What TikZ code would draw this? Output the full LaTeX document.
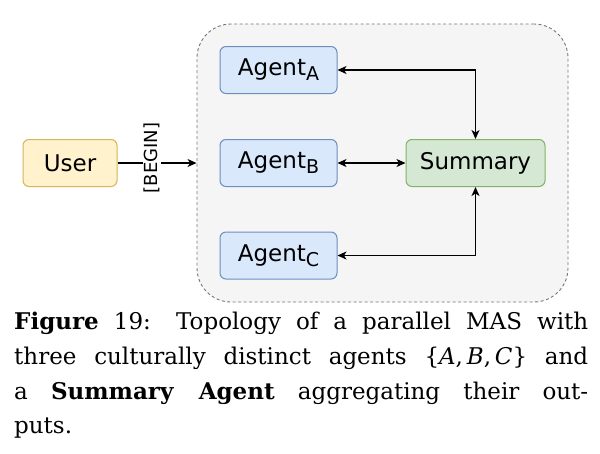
\documentclass[tikz,border=0pt]{standalone}
\usepackage{fontspec}
\newfontfamily\dvs{DejaVu Sans}
\newfontfamily\dvserif{DejaVu Serif}
\usetikzlibrary{arrows.meta}
\definecolor{userfill}{HTML}{FFF2CC}
\definecolor{userdraw}{HTML}{D6B656}
\definecolor{agfill}{HTML}{DAE8FC}
\definecolor{agdraw}{HTML}{6C8EBF}
\definecolor{sumfill}{HTML}{D5E8D4}
\definecolor{sumdraw}{HTML}{82B366}
\definecolor{contfill}{HTML}{F5F5F5}
\definecolor{contdraw}{HTML}{777777}
\newcommand{\subt}[1]{\raisebox{-5pt}{\fontsize{19}{19}\selectfont #1}}
\newcommand{\capline}[1]{\hbox to 574pt{#1}}
\tikzset{
  box/.style={rounded corners=6pt, line width=1pt, inner sep=0pt, font=\dvs\fontsize{23}{23}\selectfont},
  userbox/.style={box, fill=userfill, draw=userdraw, minimum width=94pt, minimum height=47pt},
  agentbox/.style={box, fill=agfill, draw=agdraw, minimum width=117pt, minimum height=47pt},
  sumbox/.style={box, fill=sumfill, draw=sumdraw, minimum width=139pt, minimum height=47pt},
  container/.style={rounded corners=34pt, fill=contfill, draw=contdraw, dash pattern=on 3pt off 2.5pt, line width=0.9pt, minimum width=371pt, minimum height=278pt, inner sep=0pt},
  conn/.style={line width=1.2pt, black, arrows={-Stealth[length=9pt,width=8pt,inset=2.5pt]}},
  biconn/.style={line width=1.2pt, black, arrows={Stealth[length=9pt,width=8pt,inset=2.5pt]-Stealth[length=9pt,width=8pt,inset=2.5pt]}},
  capfont/.style={font=\dvserif\fontsize{23}{23}\selectfont, inner sep=0pt, anchor=base west}
}
\begin{document}
\begin{tikzpicture}[x=1pt,y=-1pt]
\useasboundingbox (0,0) rectangle (600,453);
\fill[white] (0,0) rectangle (600,453);
\node[container] (mas) at (382.5,163) {};
\node[userbox] (user) at (70,163) {User};
\node[agentbox] (a) at (278.5,70) {Agent\subt{A}};
\node[agentbox] (b) at (278.5,163) {Agent\subt{B}};
\node[agentbox] (c) at (278.5,255.5) {Agent\subt{C}};
\node[sumbox] (sum) at (475.5,163) {Summary};
\draw[conn] (user.east) -- (mas.west)
  node[pos=0.44, rotate=90, fill=white, inner sep=1pt, font=\dvs\fontsize{18}{18}\selectfont, xshift=5pt] (beg) {[BEGIN]};
\draw[biconn] (a.east) -| (sum.north);
\draw[biconn] (b.east) -- (sum.west);
\draw[biconn] (c.east) -| (sum.south);
\node[capfont] (l1) at (14,329) {\capline{\textbf{Figure} 19: Topology of a parallel MAS with}};
\node[capfont] (l2) at (14,364) {\capline{three culturally distinct agents \{\textit{A},\,\textit{B},\,\textit{C}\} and}};
\node[capfont] (l3) at (14,399) {\capline{a \textbf{Summary Agent} aggregating their out-}};
\node[capfont] (l4) at (14,433) {puts.};
\end{tikzpicture}
\end{document}
